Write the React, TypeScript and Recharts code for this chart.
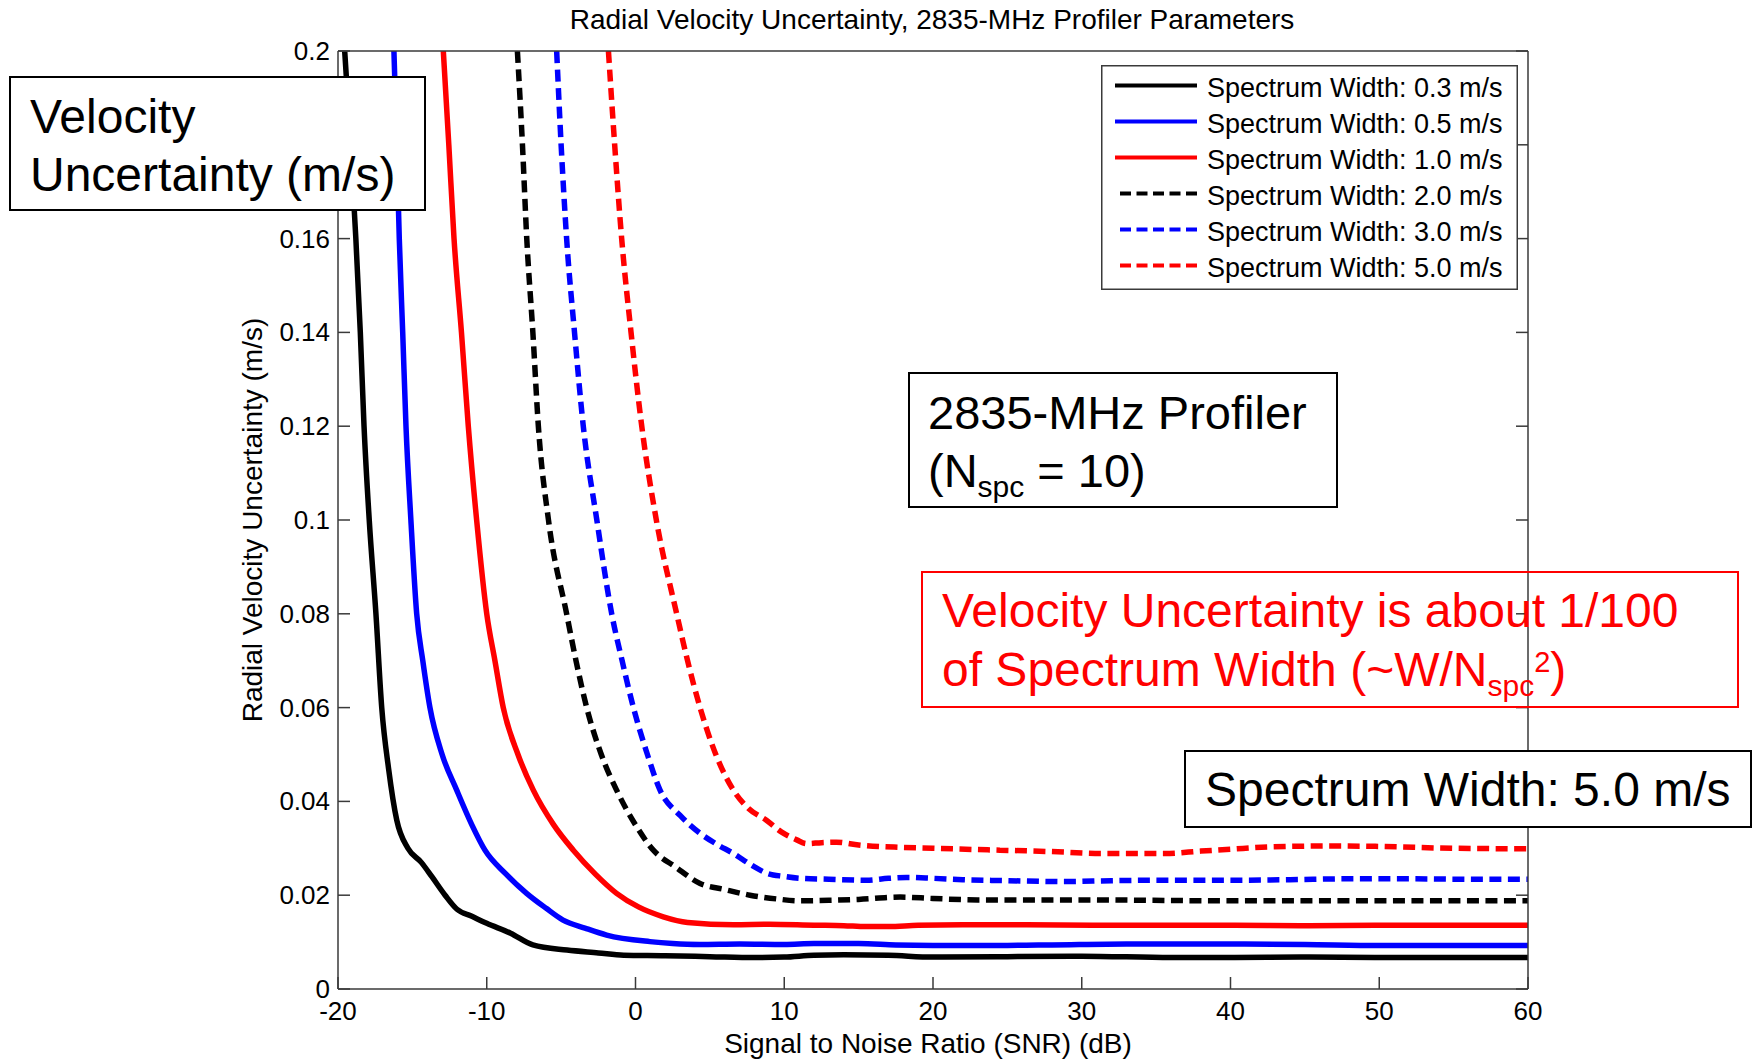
import { Legend, Line, LineChart, XAxis, YAxis } from "recharts";

const FONT = '"Liberation Sans", Arial, Helvetica, sans-serif';
const AXIS = "#3a3a3a";
const TICK_LEN = 12;

// axis ticks
const X_TICKS = [-20, -10, 0, 10, 20, 30, 40, 50, 60];
const Y_TICKS = [0, 0.02, 0.04, 0.06, 0.08, 0.1, 0.12, 0.14, 0.16, 0.18, 0.2];

// Spectrum width 0.3 m/s
const SNR_W03 = [-19.55, -19.15, -18.8, -18.5, -18.25, -17.9, -17.45, -17.06, -16.6, -16.05, -15.3, -14.4, -13.7, -12.8, -12.0, -11.0, -10.0, -8.4, -6.9, -4.6, -2.5, -0.8, 2, 5, 8, 10, 12, 14, 17, 20, 25, 30, 36, 40, 45, 50, 55, 60];
const VEL_W03 = [0.2, 0.18, 0.16, 0.14, 0.12, 0.1, 0.08, 0.06, 0.047, 0.036, 0.03, 0.027, 0.024, 0.02, 0.017, 0.0155, 0.014, 0.0119, 0.0094, 0.0083, 0.0077, 0.0072, 0.0071, 0.0069, 0.0067, 0.0068, 0.0072, 0.0073, 0.0072, 0.0068, 0.0069, 0.007, 0.0067, 0.0067, 0.0068, 0.0067, 0.0067, 0.0067];

// Spectrum width 0.5 m/s
const SNR_W05 = [-16.24, -16.05, -15.88, -15.65, -15.43, -15.1, -14.71, -14.3, -13.82, -13.0, -12.02, -11.0, -10.12, -8.7, -7.32, -6.0, -4.87, -3.4, -1.94, 0.97, 2.5, 4.3, 7, 10, 12, 15, 17.5, 20, 25, 28, 33, 40, 45, 50, 55, 60];
const VEL_W05 = [0.2, 0.18, 0.16, 0.14, 0.12, 0.1, 0.08, 0.07, 0.06, 0.05, 0.0424, 0.035, 0.0296, 0.0245, 0.0204, 0.0172, 0.0147, 0.013, 0.0115, 0.0101, 0.0097, 0.0095, 0.0096, 0.0095, 0.0097, 0.0097, 0.0094, 0.0093, 0.0093, 0.0094, 0.0096, 0.0096, 0.0095, 0.0093, 0.0093, 0.0093];

// Spectrum width 1.0 m/s
const SNR_W10 = [-12.92, -12.55, -12.2, -11.7, -11.24, -10.68, -10.0, -9.45, -8.89, -7.9, -6.87, -5.5, -4.18, -2.7, -1.27, 0.2, 1.87, 3.5, 6.6, 9, 12, 14, 15.5, 17, 19, 22, 26, 31, 36, 40, 45, 50, 55, 60];
const VEL_W10 = [0.2, 0.18, 0.16, 0.14, 0.12, 0.1, 0.08, 0.07, 0.06, 0.05, 0.0424, 0.035, 0.0296, 0.0245, 0.0204, 0.0175, 0.0154, 0.0142, 0.0137, 0.0138, 0.0136, 0.0135, 0.0133, 0.0133, 0.0136, 0.0137, 0.0137, 0.0136, 0.0136, 0.0136, 0.0135, 0.0136, 0.0136, 0.0136];

// Spectrum width 2.0 m/s
const SNR_W20 = [-7.94, -7.6, -7.31, -6.9, -6.53, -5.85, -4.63, -4.0, -3.28, -2.3, -1.27, 0.0, 1.2, 2.7, 4.34, 6, 7.7, 9.5, 11, 13, 15, 17.8, 20, 23, 30, 40, 50, 60];
const VEL_W20 = [0.2, 0.18, 0.16, 0.14, 0.12, 0.1, 0.08, 0.07, 0.06, 0.05, 0.0424, 0.035, 0.0296, 0.026, 0.0225, 0.0212, 0.02, 0.0192, 0.0188, 0.0189, 0.0191, 0.0196, 0.0193, 0.019, 0.019, 0.0188, 0.0188, 0.0188];

// Spectrum width 3.0 m/s
const SNR_W30 = [-5.3, -5.0, -4.63, -4.1, -3.51, -2.6, -1.6, -0.9, -0.14, 0.8, 1.65, 3.0, 4.34, 5.5, 6.58, 7.7, 8.82, 10, 11.06, 13, 15.5, 17, 18.2, 20, 22, 25, 28.9, 32, 35.6, 40, 44, 48, 52, 56, 60];
const VEL_W30 = [0.2, 0.18, 0.16, 0.14, 0.12, 0.1, 0.08, 0.07, 0.06, 0.05, 0.0424, 0.037, 0.0332, 0.0308, 0.0289, 0.0266, 0.0247, 0.024, 0.0236, 0.0234, 0.0232, 0.0236, 0.0238, 0.0236, 0.0233, 0.0231, 0.0229, 0.0231, 0.0232, 0.0232, 0.0233, 0.0235, 0.0235, 0.0234, 0.0234];

// Spectrum width 5.0 m/s
const SNR_W50 = [-1.82, -1.4, -0.93, -0.3, 0.42, 1.4, 2.77, 3.5, 4.34, 5.4, 6.58, 7.6, 8.8, 9.8, 10.84, 11.5, 12.5, 13.5, 15, 17.8, 20, 24.5, 28, 31.3, 35.6, 38, 40, 42.7, 47, 50, 55, 60];
const VEL_W50 = [0.2, 0.18, 0.16, 0.14, 0.12, 0.1, 0.08, 0.07, 0.06, 0.05, 0.0424, 0.0385, 0.036, 0.0335, 0.0318, 0.031, 0.0312, 0.0313, 0.0307, 0.0302, 0.03, 0.0296, 0.0293, 0.0289, 0.0289, 0.0294, 0.0298, 0.0303, 0.0305, 0.0304, 0.03, 0.0299];

const toPoints = (xs: number[], ys: number[]) => xs.map((snr, i) => ({ snr, sigma: ys[i] }));

const SERIES = [
  { key: "w03", label: "Spectrum Width: 0.3 m/s", data: toPoints(SNR_W03, VEL_W03), color: "#000000", dashed: false },
  { key: "w05", label: "Spectrum Width: 0.5 m/s", data: toPoints(SNR_W05, VEL_W05), color: "#0000ff", dashed: false },
  { key: "w10", label: "Spectrum Width: 1.0 m/s", data: toPoints(SNR_W10, VEL_W10), color: "#ff0000", dashed: false },
  { key: "w20", label: "Spectrum Width: 2.0 m/s", data: toPoints(SNR_W20, VEL_W20), color: "#000000", dashed: true },
  { key: "w30", label: "Spectrum Width: 3.0 m/s", data: toPoints(SNR_W30, VEL_W30), color: "#0000ff", dashed: true },
  { key: "w50", label: "Spectrum Width: 5.0 m/s", data: toPoints(SNR_W50, VEL_W50), color: "#ff0000", dashed: true },
];

const fmtY = (v: number) => String(Number(v.toFixed(2)));

// matlab-style inward ticks
function BottomTick(props: any) {
  const { x, y, payload } = props;
  return (
    <g>
      <line x1={x} x2={x} y1={y} y2={y - TICK_LEN} stroke={AXIS} strokeWidth={1.5} />
      <text x={x} y={y + 31} textAnchor="middle" fontSize={26} fontFamily={FONT} fill="#000">
        {payload.value}
      </text>
    </g>
  );
}

function TopTick(props: any) {
  const { x, y } = props;
  return <line x1={x} x2={x} y1={y} y2={y + TICK_LEN} stroke={AXIS} strokeWidth={1.5} />;
}

function LeftTick(props: any) {
  const { x, y, payload } = props;
  return (
    <g>
      <line x1={x} x2={x + TICK_LEN} y1={y} y2={y} stroke={AXIS} strokeWidth={1.5} />
      <text x={x - 8} y={y + 9} textAnchor="end" fontSize={26} fontFamily={FONT} fill="#000">
        {fmtY(payload.value)}
      </text>
    </g>
  );
}

function RightTick(props: any) {
  const { x, y } = props;
  return <line x1={x} x2={x - TICK_LEN} y1={y} y2={y} stroke={AXIS} strokeWidth={1.5} />;
}

function LegendBox() {
  return (
    <svg width={417} height={225} style={{ display: "block" }}>
      <rect x={0.75} y={0.75} width={415.5} height={223.5} fill="#fff" stroke={AXIS} strokeWidth={1.5} />
      {SERIES.map((s, i) => {
        const base = 31.5 + i * 36;
        return (
          <g key={s.key}>
            <line
              x1={s.dashed ? 19 : 14}
              x2={96}
              y1={base - 11}
              y2={base - 11}
              stroke={s.color}
              strokeWidth={4}
              strokeDasharray={s.dashed ? "11 5.5" : undefined}
            />
            <text x={106} y={base} fontSize={27} fontFamily={FONT} fill="#000">
              {s.label}
            </text>
          </g>
        );
      })}
    </svg>
  );
}

const boxText: React.CSSProperties = {
  position: "absolute",
  boxSizing: "border-box",
  fontFamily: FONT,
  fontSize: 47,
  lineHeight: "58px",
  whiteSpace: "nowrap",
};

const sub: React.CSSProperties = { fontSize: 30, verticalAlign: -10, lineHeight: 1 };
const sup: React.CSSProperties = { fontSize: 29, verticalAlign: 14, lineHeight: 1 };

export default function App() {
  return (
    <div style={{ position: "absolute", left: 0, top: 0, width: 1754, height: 1062, background: "#fff", overflow: "hidden" }}>
      <LineChart width={1754} height={1062} margin={{ top: 0, right: 0, bottom: 0, left: 0 }}>
        <XAxis
          xAxisId="bottom"
          dataKey="snr"
          type="number"
          domain={[-20, 60]}
          ticks={X_TICKS}
          interval={0}
          allowDataOverflow
          height={73}
          tickSize={0}
          tickMargin={0}
          tick={BottomTick}
          axisLine={{ stroke: AXIS, strokeWidth: 1.5 }}
          label={() => (
            <text x={928} y={1053} textAnchor="middle" fontSize={28} fontFamily={FONT} fill="#000">
              Signal to Noise Ratio (SNR) (dB)
            </text>
          )}
        />
        <XAxis
          xAxisId="top"
          orientation="top"
          type="number"
          domain={[-20, 60]}
          ticks={X_TICKS}
          interval={0}
          allowDataOverflow
          height={51}
          tickSize={0}
          tickMargin={0}
          tick={TopTick}
          axisLine={{ stroke: AXIS, strokeWidth: 1.5 }}
        />
        <YAxis
          yAxisId="left"
          dataKey="sigma"
          type="number"
          domain={[0, 0.2]}
          ticks={Y_TICKS}
          interval={0}
          allowDataOverflow
          width={338}
          tickSize={0}
          tickMargin={0}
          tick={LeftTick}
          axisLine={{ stroke: AXIS, strokeWidth: 1.5 }}
          label={() => (
            <text
              x={262}
              y={520}
              transform="rotate(-90 262 520)"
              textAnchor="middle"
              fontSize={28}
              fontFamily={FONT}
              fill="#000"
            >
              Radial Velocity Uncertainty (m/s)
            </text>
          )}
        />
        <YAxis
          yAxisId="right"
          orientation="right"
          type="number"
          domain={[0, 0.2]}
          ticks={Y_TICKS}
          interval={0}
          allowDataOverflow
          width={226}
          tickSize={0}
          tickMargin={0}
          tick={RightTick}
          axisLine={{ stroke: AXIS, strokeWidth: 1.5 }}
        />
        {SERIES.map((s) => (
          <Line
            key={s.key}
            xAxisId="bottom"
            yAxisId="left"
            data={s.data}
            dataKey="sigma"
            name={s.label}
            type="monotone"
            stroke={s.color}
            strokeWidth={5.5}
            strokeDasharray={s.dashed ? "12 6.5" : undefined}
            dot={false}
            activeDot={false}
            isAnimationActive={false}
          />
        ))}
        <Legend
          layout="vertical"
          align="center"
          verticalAlign="middle"
          wrapperStyle={{ left: 1101, top: 65, width: 417, height: 225 }}
          content={() => <LegendBox />}
        />
      </LineChart>

      <div
        style={{
          position: "absolute",
          left: 432,
          top: 5,
          width: 1000,
          textAlign: "center",
          fontFamily: FONT,
          fontSize: 28,
          lineHeight: "30px",
          whiteSpace: "nowrap",
        }}
      >
        Radial Velocity Uncertainty, 2835-MHz Profiler Parameters
      </div>

      <div
        style={{
          ...boxText,
          left: 9,
          top: 76,
          width: 417,
          height: 135,
          border: "2px solid #000",
          background: "#fff",
          fontSize: 48,
          padding: "10px 0 0 19px",
        }}
      >
        <div>Velocity</div>
        <div>Uncertainty (m/s)</div>
      </div>

      <div
        style={{
          ...boxText,
          left: 908,
          top: 372,
          width: 430,
          height: 136,
          border: "2px solid #000",
          background: "#fff",
          padding: "10px 0 0 18px",
        }}
      >
        <div>2835-MHz Profiler</div>
        <div>
          (N<span style={sub}>spc</span> = 10)
        </div>
      </div>

      <div
        style={{
          ...boxText,
          left: 921,
          top: 571,
          width: 818,
          height: 137,
          border: "2px solid #ff0000",
          color: "#ff0000",
          fontSize: 48,
          lineHeight: "59px",
          padding: "8px 0 0 19px",
        }}
      >
        <div>Velocity Uncertainty is about 1/100</div>
        <div>
          of Spectrum Width (~W/N<span style={sub}>spc</span>
          <span style={sup}>2</span>)
        </div>
      </div>

      <div
        style={{
          ...boxText,
          left: 1184,
          top: 750,
          width: 568,
          height: 78,
          border: "2px solid #000",
          background: "#fff",
          fontSize: 48,
          padding: "9px 0 0 19px",
        }}
      >
        Spectrum Width: 5.0 m/s
      </div>
    </div>
  );
}
